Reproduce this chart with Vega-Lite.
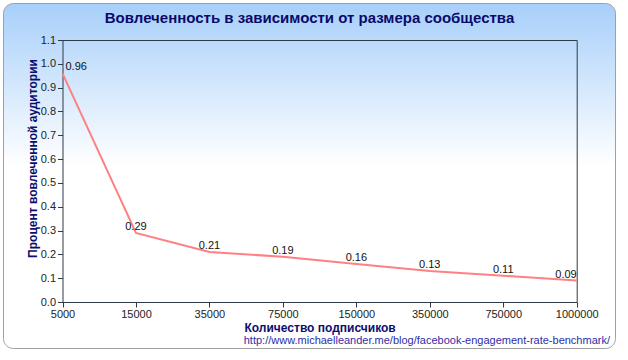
{
  "$schema": "https://vega.github.io/schema/vega-lite/v6.json",
  "width": 612,
  "height": 345,
  "autosize": {"type": "none"},
  "padding": {"left": 3, "top": 3, "right": 13, "bottom": 12},
  "background": "white",
  "title": {
    "text": "http://www.michaelleander.me/blog/facebook-engagement-rate-benchmark/",
    "orient": "bottom",
    "anchor": "end",
    "frame": "group",
    "offset": -13,
    "dx": -5,
    "font": "Liberation Sans",
    "fontSize": 11,
    "fontWeight": "normal",
    "color": "#2e2ea6"
  },
  "config": {
    "view": {
      "fill": {
        "gradient": "linear",
        "x1": 0, "y1": 0, "x2": 0, "y2": 1,
        "stops": [
          {"offset": 0, "color": "#a7cffa"},
          {"offset": 0.47, "color": "#ffffff"},
          {"offset": 1, "color": "#ffffff"}
        ]
      },
      "stroke": "#a0a0a0",
      "strokeWidth": 1,
      "cornerRadius": 10
    },
    "axis": {
      "labelFont": "Liberation Sans",
      "labelFontSize": 11,
      "labelColor": "#222222",
      "titleFont": "Liberation Sans",
      "titleFontSize": 12,
      "titleFontWeight": "bold",
      "titleColor": "#0d0d6e",
      "domainColor": "#2f3a45",
      "tickColor": "#2f3a45",
      "grid": false,
      "tickSize": 5
    }
  },
  "data": {
    "values": [
      {"subs": 5000, "pct": 0.96},
      {"subs": 15000, "pct": 0.29},
      {"subs": 35000, "pct": 0.21},
      {"subs": 75000, "pct": 0.19},
      {"subs": 150000, "pct": 0.16},
      {"subs": 350000, "pct": 0.13},
      {"subs": 750000, "pct": 0.11},
      {"subs": 1000000, "pct": 0.09}
    ]
  },
  "layer": [
    {
      "mark": {"type": "line", "color": "#ff8080", "strokeWidth": 2},
      "encoding": {
        "x": {
          "field": "subs",
          "type": "ordinal",
          "sort": null,
          "scale": {"type": "point", "padding": 0, "range": [59.5, 573.7]},
          "axis": {
            "orient": "bottom",
            "offset": -46,
            "labelAngle": 0,
            "labelPadding": 1,
            "title": "Количество подписчиков",
            "titleY": 29,
            "titleBaseline": "alphabetic"
          }
        },
        "y": {
          "field": "pct",
          "type": "quantitative",
          "scale": {"domain": [0, 1.1], "nice": false, "range": [299, 37]},
          "axis": {
            "orient": "left",
            "offset": -59.5,
            "values": [0, 0.1, 0.2, 0.3, 0.4, 0.5, 0.6, 0.7, 0.8, 0.9, 1.0, 1.1],
            "format": ".1f",
            "labelPadding": 2,
            "title": "Процент вовлеченной аудитории",
            "titleAngle": -90,
            "titleX": -26.5,
            "titleY": 155,
            "titleAlign": "center",
            "titleBaseline": "alphabetic"
          }
        }
      }
    },
    {
      "mark": {
        "type": "text",
        "font": "Liberation Sans",
        "fontSize": 11,
        "color": "#111111",
        "baseline": "alphabetic",
        "dy": -3,
        "align": {"expr": "datum.subs == 5000 ? 'left' : (datum.subs == 1000000 ? 'right' : 'center')"},
        "dx": {"expr": "datum.subs == 5000 ? 3 : 0"}
      },
      "encoding": {
        "x": {
          "field": "subs",
          "type": "ordinal",
          "sort": null,
          "axis": {
            "orient": "top",
            "offset": -37,
            "labels": false,
            "ticks": false,
            "domain": true,
            "title": "Вовлеченность в зависимости от размера сообщества",
            "titleFontSize": 15,
            "titleColor": "#0a0a6b",
            "titleX": 306,
            "titleY": -18,
            "titleAlign": "center",
            "titleBaseline": "alphabetic"
          }
        },
        "y": {
          "field": "pct",
          "type": "quantitative",
          "axis": {
            "orient": "right",
            "offset": -38.3,
            "labels": false,
            "ticks": false,
            "domain": true,
            "title": null
          }
        },
        "text": {"field": "pct", "type": "quantitative", "format": ".2f"}
      }
    }
  ],
  "resolve": {"axis": {"x": "independent", "y": "independent"}}
}
